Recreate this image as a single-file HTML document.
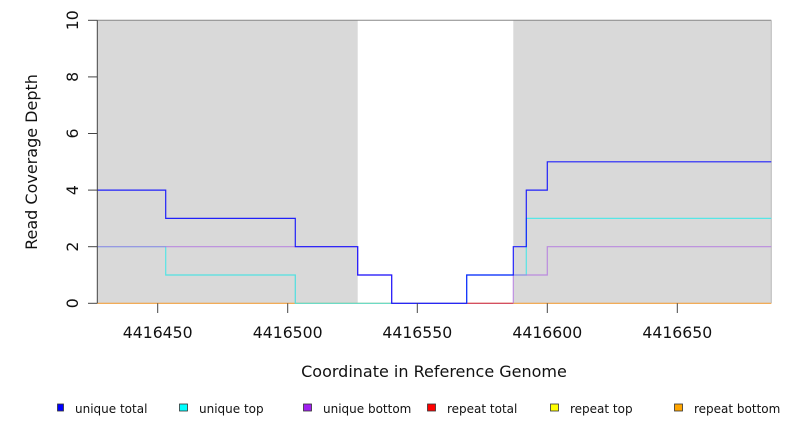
<!DOCTYPE html>
<html><head><meta charset="utf-8"><style>
html,body{margin:0;padding:0;background:#fff;}
svg{display:block;font-family:"DejaVu Sans","Liberation Sans",sans-serif;}
</style></head><body>
<svg width="792" height="432" viewBox="0 0 792 432" xmlns="http://www.w3.org/2000/svg">
<rect x="97.3" y="20.3" width="260.4" height="283" fill="#d9d9d9"/>
<rect x="513.3" y="20.3" width="258" height="283" fill="#d9d9d9"/>
<line x1="97.3" y1="20.3" x2="771.3" y2="20.3" stroke="#888" stroke-width="1"/>
<line x1="771.3" y1="20.3" x2="771.3" y2="303.3" stroke="#bbb" stroke-width="1"/>
<line x1="97.3" y1="303.3" x2="771.3" y2="303.3" stroke="#f0a040" stroke-width="1.2"/>
<line x1="466.7" y1="303.3" x2="513.3" y2="303.3" stroke="#d04060" stroke-width="1.2"/>
<polyline fill="none" stroke="#bbbbbb" stroke-width="1" points="165.7,275 295.3,275 295.3,303.3"/>
<polyline fill="none" stroke="#40e8e8" stroke-width="1.2" opacity="0.85" points="97.3,246.7 165.7,246.7 165.7,275 295.3,275 295.3,303.3 466.7,303.3 466.7,275 526.3,275 526.3,218.4 771.3,218.4"/>
<polyline fill="none" stroke="#b070e0" stroke-width="1.2" opacity="0.75" points="97.3,246.7 357.7,246.7 357.7,275 391.7,275 391.7,303.3 466.7,303.3 M513.3,303.3"/>
<polyline fill="none" stroke="#b070e0" stroke-width="1.2" opacity="0.75" points="513.3,303.3 513.3,275 547.3,275 547.3,246.7 771.3,246.7"/>
<polyline fill="none" stroke="#0000ff" stroke-width="1.2" opacity="0.85" points="97.3,190.1 165.7,190.1 165.7,218.4 295.3,218.4 295.3,246.7 357.7,246.7 357.7,275 391.7,275 391.7,303.3 466.7,303.3 466.7,275 513.3,275 513.3,246.7 526.3,246.7 526.3,190.1 547.3,190.1 547.3,161.8 771.3,161.8"/>
<line x1="97.3" y1="20.3" x2="97.3" y2="303.3" stroke="#444" stroke-width="1"/>
<g stroke="#444" stroke-width="1">
<line x1="88" y1="303.3" x2="97.3" y2="303.3"/><line x1="88" y1="246.7" x2="97.3" y2="246.7"/>
<line x1="88" y1="190.1" x2="97.3" y2="190.1"/><line x1="88" y1="133.5" x2="97.3" y2="133.5"/>
<line x1="88" y1="76.9" x2="97.3" y2="76.9"/><line x1="88" y1="20.3" x2="97.3" y2="20.3"/>
<line x1="157.7" y1="303.3" x2="157.7" y2="313"/><line x1="287.7" y1="303.3" x2="287.7" y2="313"/>
<line x1="417.3" y1="303.3" x2="417.3" y2="313"/><line x1="547.3" y1="303.3" x2="547.3" y2="313"/>
<line x1="677.3" y1="303.3" x2="677.3" y2="313"/>
</g>
<g font-size="15.7" fill="#111" text-anchor="middle">
<text transform="translate(78,303.3) rotate(-90)">0</text>
<text transform="translate(78,246.7) rotate(-90)">2</text>
<text transform="translate(78,190.1) rotate(-90)">4</text>
<text transform="translate(78,133.5) rotate(-90)">6</text>
<text transform="translate(78,76.9) rotate(-90)">8</text>
<text transform="translate(78,20.3) rotate(-90)">10</text>
<text x="157.7" y="338">4416450</text>
<text x="287.7" y="338">4416500</text>
<text x="417.3" y="338">4416550</text>
<text x="547.3" y="338">4416600</text>
<text x="677.3" y="338">4416650</text>
</g>
<g font-size="16" fill="#111" text-anchor="middle">
<text transform="translate(37,162) rotate(-90)">Read Coverage Depth</text>
<text x="434" y="377">Coordinate in Reference Genome</text>
</g>
<g font-size="12" fill="#111" stroke-width="0.8">
<rect x="57.5" y="404" width="6" height="7" fill="#0000ff" stroke="#333"/><text x="75" y="413">unique total</text>
<rect x="179.5" y="404" width="8" height="7" fill="#00ffff" stroke="#333"/><text x="199" y="413">unique top</text>
<rect x="303.5" y="404" width="8" height="7" fill="#a020f0" stroke="#333"/><text x="323" y="413">unique bottom</text>
<rect x="427.5" y="404" width="8" height="7" fill="#ff0000" stroke="#333"/><text x="447" y="413">repeat total</text>
<rect x="550.5" y="404" width="8" height="7" fill="#ffff00" stroke="#333"/><text x="570" y="413">repeat top</text>
<rect x="674.5" y="404" width="8" height="7" fill="#ffa500" stroke="#333"/><text x="694" y="413">repeat bottom</text>
</g>
</svg>
</body></html>
